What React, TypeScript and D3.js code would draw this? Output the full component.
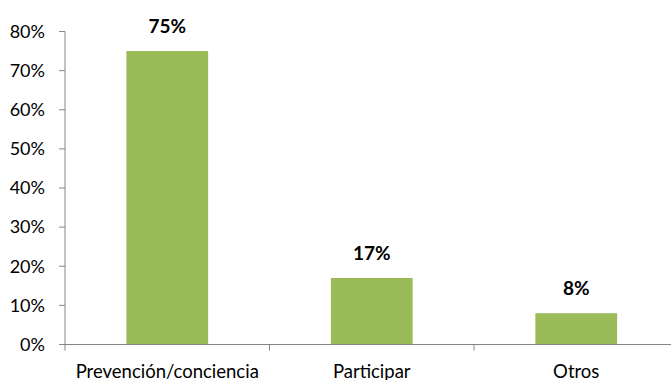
import React from "react";
import * as d3 from "d3";

const categories = ["Prevención/conciencia", "Participar", "Otros"];
const values = [75, 17, 8];
const yTicks = [0, 10, 20, 30, 40, 50, 60, 70, 80];

const W = 671;
const H = 380;
const FONT = "Lato, 'Open Sans', sans-serif";

export default function App() {
  const x = d3.scaleBand<string>().domain(categories).range([65, 678.5]).padding(0);
  const y = d3.scaleLinear().domain([0, 80]).range([344.5, 31.5]);
  const barW = x.bandwidth() * 0.4;
  const axisColor = "#868686";

  return (
    <svg
      width={W}
      height={H}
      style={{ position: "absolute", left: 0, top: 0, background: "#fff" }}
    >
      {/* bars */}
      {categories.map((c, i) => {
        const cx = (x(c) as number) + x.bandwidth() / 2;
        return (
          <g key={c}>
            <rect
              x={cx - barW / 2}
              y={y(values[i])}
              width={barW}
              height={y(0) - y(values[i])}
              fill="#9BBB59"
            />
            <text
              x={cx}
              y={y(values[i]) - 18}
              textAnchor="middle"
              fontFamily={FONT}
              fontWeight="bold"
              fontSize={19}
              fill="#000"
            >
              {values[i]}%
            </text>
          </g>
        );
      })}

      {/* y axis */}
      <line x1={65} x2={65} y1={y(80)} y2={y(0)} stroke={axisColor} strokeWidth={1} />
      {yTicks.map((t) => (
        <g key={t}>
          <line x1={59} x2={65} y1={y(t)} y2={y(t)} stroke={axisColor} />
          <text
            x={45}
            y={y(t)}
            dy="0.35em"
            textAnchor="end"
            fontFamily={FONT}
            fontSize={18}
            fill="#000"
          >
            {t}%
          </text>
        </g>
      ))}

      {/* x axis */}
      <line x1={65} x2={678.5} y1={y(0)} y2={y(0)} stroke={axisColor} />
      {categories.map((c) => (
        <line
          key={"t" + c}
          x1={(x(c) as number) + x.bandwidth()}
          x2={(x(c) as number) + x.bandwidth()}
          y1={y(0)}
          y2={y(0) + 6}
          stroke={axisColor}
        />
      ))}
      <line x1={65} x2={65} y1={y(0)} y2={y(0) + 6} stroke={axisColor} />
      {categories.map((c) => (
        <text
          key={"l" + c}
          x={(x(c) as number) + x.bandwidth() / 2}
          y={378}
          textAnchor="middle"
          fontFamily={FONT}
          fontSize={18.5}
          fill="#000"
        >
          {c}
        </text>
      ))}
    </svg>
  );
}
